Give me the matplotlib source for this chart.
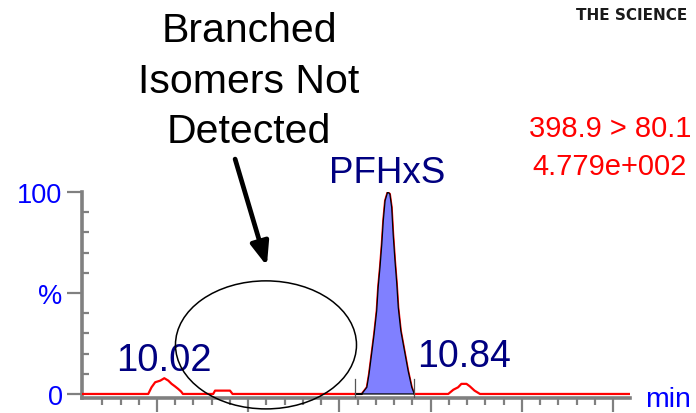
import matplotlib
matplotlib.use('agg')
from matplotlib import pyplot as plt
import matplotlib.patches as mpatches

plt.rcParams['font.family'] = ['Liberation Sans', 'DejaVu Sans']

# chromatogram trace, retention time (min) vs relative intensity (%)
trace_time = [9.797, 9.976, 9.985, 9.995, 10.009, 10.020, 10.031, 10.040, 10.049, 10.058,
              10.066, 10.071, 10.154, 10.159, 10.200, 10.207,
              10.542, 10.561, 10.575, 10.581, 10.588, 10.595, 10.602, 10.606, 10.611,
              10.616, 10.620, 10.625, 10.632, 10.638, 10.643, 10.647, 10.652, 10.657,
              10.661, 10.668, 10.678, 10.688, 10.698, 10.705,
              10.798, 10.812, 10.825, 10.834, 10.840, 10.848, 10.857, 10.870, 10.885, 11.296]
trace_pct = [0, 0, 3.3, 5.8, 6.6, 7.8, 6.6, 5.0, 3.8, 2.5,
             1.2, 0, 0, 1.65, 1.65, 0,
             0, 0, 3.3, 9.9, 19.8, 29.7, 41.2, 52.8, 62.7,
             74.3, 85.8, 95.7, 100, 99, 92.4, 79.2, 66.0, 54.5,
             42.9, 31.3, 21.4, 11.5, 3.3, 0,
             0, 2.1, 3.3, 5.0, 5.0, 5.0, 3.8, 1.65, 0, 0]

# integrated peak window
peak_start = 10.542
peak_end = 10.705
peak_labels = ['10.02', '10.84']
compound = 'PFHxS'
transition = '398.9 > 80.1'
intensity = '4.779e+002'

W, H = 696, 414
fig = plt.figure(figsize=(W / 100, H / 100), dpi=100)
ax = fig.add_axes([82 / W, 15 / H, 548 / W, 206 / H])

def fx(x):
    return x / W

def fy(y):
    return 1 - y / H

# trace and filled PFHxS peak
ax.plot(trace_time, trace_pct, color='red', lw=1.6, zorder=3)
pk_t = [t for t in trace_time if peak_start <= t <= peak_end]
pk_y = [p for t, p in zip(trace_time, trace_pct) if peak_start <= t <= peak_end]
ax.fill(pk_t + [peak_end, peak_start], pk_y + [0, 0], facecolor='#8080ff',
        edgecolor='black', lw=0.9, zorder=4)
for t in (peak_start, peak_end):
    ax.plot([t, t], [-1.5, 7.5], color='#555555', lw=0.9, zorder=4, clip_on=False)

ax.set_xlim(9.7945, 11.296)
ax.set_ylim(-2, 100)

for s in ['top', 'right']:
    ax.spines[s].set_visible(False)
for s in ['left', 'bottom']:
    ax.spines[s].set_color('#808080')
    ax.spines[s].set_linewidth(2.6)

ax.set_yticks([0, 50, 100])
ax.set_yticklabels(['0', '%', '100'], color='#0000ff', fontsize=19.5)
ax.set_yticks([10, 20, 30, 40, 60, 70, 80, 90], minor=True)
ax.tick_params(axis='y', which='major', direction='out', length=11, width=1.6,
               color='#808080', pad=3)
ax.tick_params(axis='y', which='minor', direction='in', length=5, width=1.6,
               color='#808080')
ax.set_xticks([10.0, 10.25, 10.5, 10.75, 11.0, 11.25])
ax.set_xticklabels([])
ax.set_xticks([9.85 + 0.05 * i for i in range(29) if i % 5 != 3], minor=True)
ax.tick_params(axis='x', which='major', direction='out', length=10, width=1.6,
               color='#808080')
ax.tick_params(axis='x', which='minor', direction='out', length=5, width=1.6,
               color='#808080')

# peak retention time labels
ax.text(10.02, 7.8 + 4, peak_labels[0], color='#000080', fontsize=27.5,
        ha='center', va='baseline')
ax.text(10.84, 5.0 + 9, peak_labels[1], color='#000080', fontsize=27,
        ha='center', va='baseline')
fig.text(fx(387), fy(183), compound, color='#000080', fontsize=26.5,
         ha='center', va='baseline')

# annotation: ellipse + arrow
ell = mpatches.Ellipse((10.2986, 24.3), 0.496, 63.4, fill=False, edgecolor='black',
                       lw=1.1, clip_on=False, zorder=5)
ax.add_patch(ell)
ax.annotate('', xy=(10.301, 63.4), xytext=(10.214, 116.3),
            arrowprops=dict(arrowstyle='-|>,head_length=1.4,head_width=0.55',
                            color='black', lw=3.4, shrinkA=0, shrinkB=0),
            annotation_clip=False)

for txt, yb in [('Branched', 42), ('Isomers Not', 93), ('Detected', 143)]:
    fig.text(fx(249), fy(yb), txt, color='black', fontsize=29.5, ha='center', va='baseline')

fig.text(fx(610), fy(137), transition, color='red', fontsize=21, ha='center', va='baseline')
fig.text(fx(610), fy(175), intensity, color='red', fontsize=21, ha='center', va='baseline')
fig.text(fx(645), fy(407), 'min', color='#0000ff', fontsize=20.5, ha='left', va='baseline')
fig.text(fx(576), fy(20), 'THE SCIENCE', color='#1a1a1a', fontsize=11,
         fontweight='bold', family='DejaVu Sans', ha='left', va='baseline')

plt.savefig('out.png', dpi=100)
